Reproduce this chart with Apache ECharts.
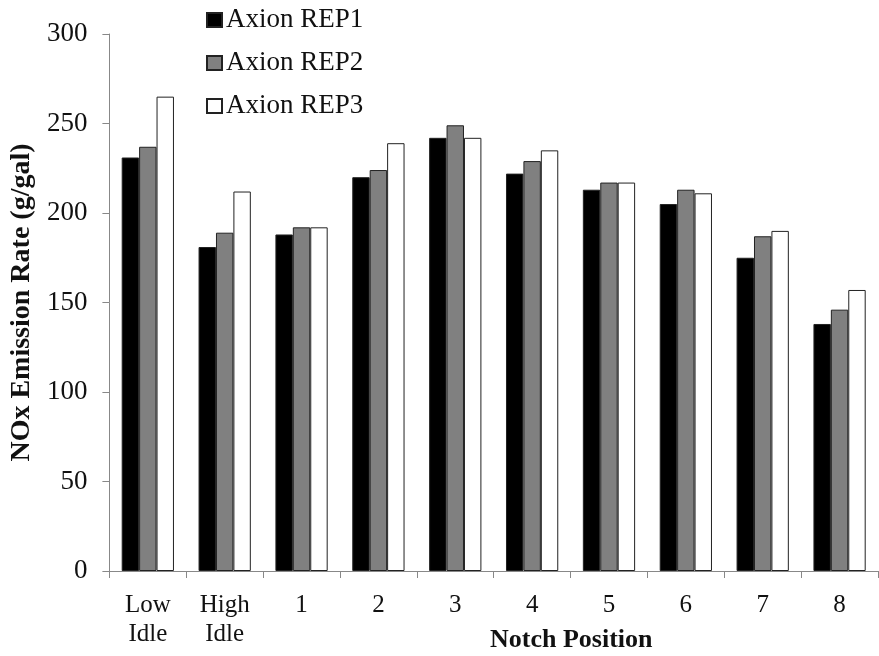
<!DOCTYPE html>
<html>
<head>
<meta charset="utf-8">
<script src="https://cdn.jsdelivr.net/npm/echarts@6/dist/echarts.min.js"></script>
<style>
html,body{margin:0;padding:0;background:#fff;}
#c{width:879px;height:656px;}
</style>
</head>
<body>
<div id="c"></div>
<script>
const categories = ['Low\nIdle', 'High\nIdle', '1', '2', '3', '4', '5', '6', '7', '8'];
const rep1 = [231, 181, 188, 220, 242, 222, 213, 205, 175, 138];
const rep2 = [237, 189, 192, 224, 249, 229, 217, 213, 187, 146];
const rep3 = [265, 212, 192, 239, 242, 235, 217, 211, 190, 157];
const yTicks = [0, 50, 100, 150, 200, 250, 300];
const seriesNames = ['Axion REP1', 'Axion REP2', 'Axion REP3'];

const font = 'Liberation Serif, Times New Roman, serif';
const chart = echarts.init(document.getElementById('c'), null, {renderer: 'canvas'});

function mk(name, data, color) {
  return {
    name: name,
    type: 'bar',
    data: data,
    barGap: '0%',
    barCategoryGap: '32%',
    itemStyle: {color: color, borderColor: '#222', borderWidth: 1},
    emphasis: {disabled: true}
  };
}

chart.setOption({
  animation: false,
  textStyle: {fontFamily: font},
  legend: {
    orient: 'vertical',
    left: 201,
    top: 1,
    itemWidth: 15,
    itemHeight: 14,
    itemGap: 15,
    icon: 'rect',
    data: seriesNames,
    textStyle: {fontFamily: font, fontSize: 27, color: '#111', lineHeight: 28, padding: [0, 0, 0, -1]}
  },
  grid: {left: 107, right: 1, top: 34, bottom: 85},
  xAxis: {
    type: 'category',
    data: categories,
    axisLine: {lineStyle: {color: '#888', width: 1}},
    axisTick: {show: true, length: 7, alignWithLabel: false, lineStyle: {color: '#888'}},
    axisLabel: {fontFamily: font, fontSize: 25, color: '#111', margin: 20, lineHeight: 29, interval: 0}
  },
  yAxis: {
    type: 'value',
    min: yTicks[0],
    max: yTicks[yTicks.length - 1],
    interval: 50,
    name: 'NOx Emission Rate (g/gal)',
    nameLocation: 'middle',
    nameGap: 70,
    nameTextStyle: {fontFamily: font, fontSize: 28, fontWeight: 'bold', color: '#111'},
    axisLine: {show: true, lineStyle: {color: '#888', width: 1}},
    axisTick: {show: true, length: 7, lineStyle: {color: '#888'}},
    splitLine: {show: false},
    axisLabel: {fontFamily: font, fontSize: 27, color: '#111', margin: 22}
  },
  graphic: [{
    type: 'text',
    left: 490,
    top: 627,
    style: {text: 'Notch Position', font: 'bold 26px ' + font, fill: '#111'}
  }],
  series: [
    mk(seriesNames[0], rep1, '#000000'),
    mk(seriesNames[1], rep2, '#808080'),
    mk(seriesNames[2], rep3, '#ffffff')
  ]
});
</script>
</body>
</html>
